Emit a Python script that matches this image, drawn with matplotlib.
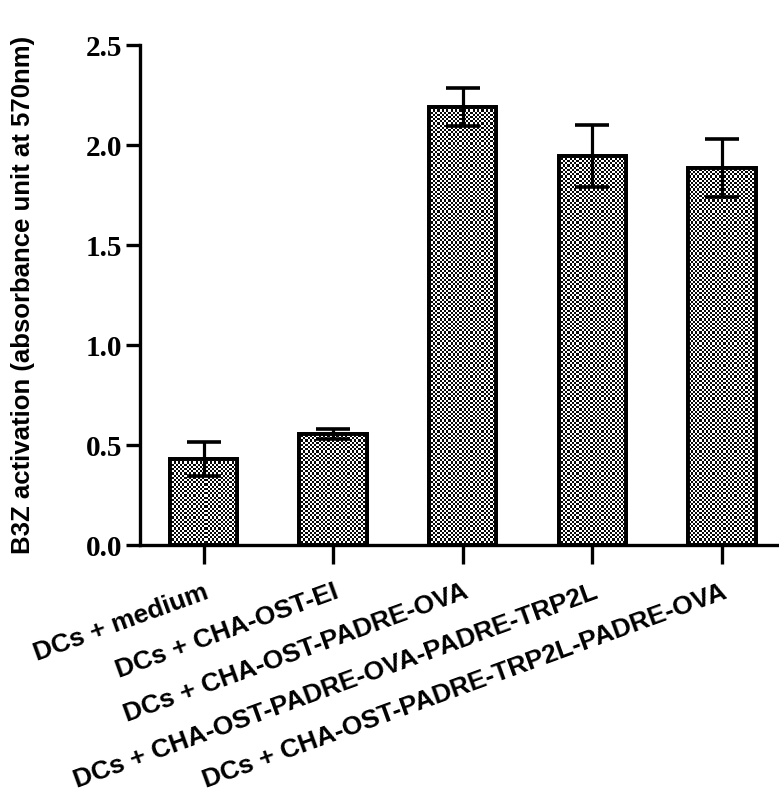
import numpy as np
import matplotlib
matplotlib.use('Agg')
import matplotlib.pyplot as plt

# dados
grupos = ['DCs + medium',
          'DCs + CHA-OST-EI',
          'DCs + CHA-OST-PADRE-OVA',
          'DCs + CHA-OST-PADRE-OVA-PADRE-TRP2L',
          'DCs + CHA-OST-PADRE-TRP2L-PADRE-OVA']
medias = [0.43, 0.555, 2.19, 1.945, 1.885]
erros = [0.085, 0.025, 0.095, 0.155, 0.145]
yticks = [0.0, 0.5, 1.0, 1.5, 2.0, 2.5]

fig = plt.figure(figsize=(7.79, 8.01), dpi=100)
ax = fig.add_axes([140/779, 1 - 545/801, 639/779, 500/801])

x = np.arange(len(grupos))
xlim = (-0.49, 4.44)
ylim = (0, 2.5)

barras = ax.bar(x, medias, width=0.52, color='white', edgecolor='black',
                linewidth=2.6, zorder=2)

# padrao pontilhado (xadrez) dentro das barras
ny, nx = 500, 639
yy, xx = np.mgrid[0:ny, 0:nx]
padrao = ((np.floor(xx / 2.2) + np.floor(yy / 2.2)) % 2) * 0.97 + 0.03
for b in barras:
    im = ax.imshow(padrao, cmap='gray', vmin=0, vmax=1, extent=(*xlim, *ylim),
                   aspect='auto', interpolation='nearest', zorder=2.5)
    im.set_clip_path(b)

# redesenhar contornos
ax.bar(x, medias, width=0.52, color='none', edgecolor='black',
       linewidth=2.8, zorder=3)

ax.errorbar(x, medias, yerr=erros, fmt='none', ecolor='black', elinewidth=2.3,
            capsize=12.5, capthick=2.6, zorder=4)

ax.set_xlim(*xlim)
ax.set_ylim(*ylim)
ax.set_yticks(yticks)
ax.set_yticklabels([f'{v:.1f}' for v in yticks], fontfamily='Liberation Serif',
                   fontweight='bold', fontsize=21)
ax.set_xticks(x)
ax.set_xticklabels(grupos, rotation=20, ha='right', va='top', rotation_mode='anchor',
                   fontfamily='Liberation Sans', fontweight='bold', fontsize=19)

for s in ['top', 'right']:
    ax.spines[s].set_visible(False)
for s in ['left', 'bottom']:
    ax.spines[s].set_linewidth(2.4)

ax.tick_params(axis='y', length=10, width=2.4, pad=3)
ax.tick_params(axis='x', length=14, width=2.4, pad=11)

ax.set_ylabel('B3Z activation (absorbance unit at 570nm)', fontfamily='Liberation Sans',
              fontweight='bold', fontsize=18.5, labelpad=36)

fig.savefig('out.png', dpi=100)
